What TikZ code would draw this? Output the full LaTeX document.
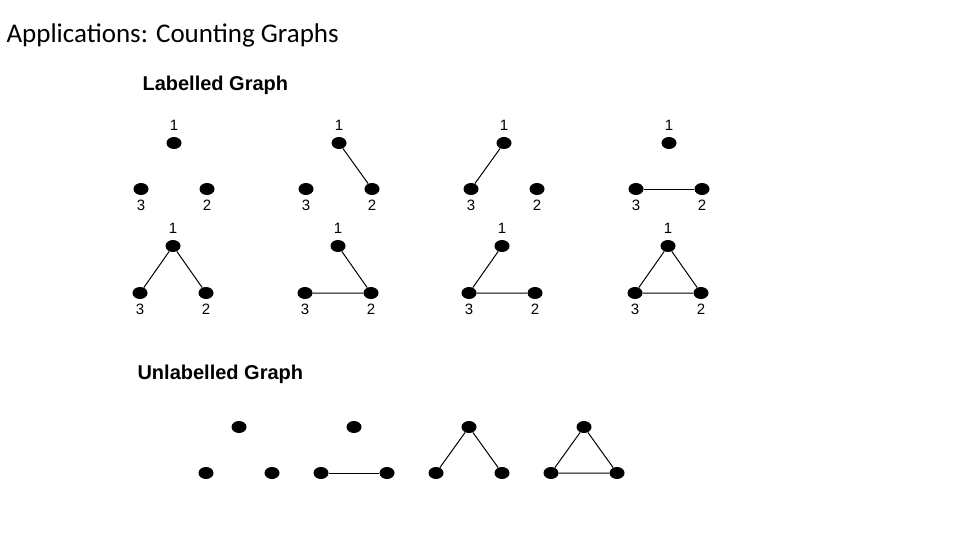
\documentclass[tikz,border=0pt]{standalone}
\usepackage{fontspec}
\usetikzlibrary{shapes.geometric}
\setmainfont{Carlito}
\newfontfamily\arialf{Liberation Sans}
\newcommand{\labgraph}[4]{% name, x1, y1, dy
  \node[v] (#1a) at (#2,#3) {};
  \node[v] (#1c) at (#2-33,#3+#4) {};
  \node[v] (#1b) at (#2+33,#3+#4) {};
  \node[lab] (#1la) at (#2,#3-18) {1};
  \node[lab] (#1lc) at (#2-33,#3+#4+16) {3};
  \node[lab] (#1lb) at (#2+33,#3+#4+16) {2};}
\newcommand{\unlgraph}[3]{%
  \node[v] (#1a) at (#2,#3) {};
  \node[v] (#1c) at (#2-33,#3+46) {};
  \node[v] (#1b) at (#2+33,#3+46) {};}
\begin{document}
\begin{tikzpicture}[x=1pt,y=-1pt,
  v/.style={ellipse,fill=black,minimum width=15pt,minimum height=12pt,inner sep=0pt},
  lab/.style={font=\arialf\fontsize{15}{15}\selectfont},
  hd/.style={font=\arialf\bfseries\fontsize{20}{20}\selectfont,anchor=west},
  e/.style={line width=1pt}]
\useasboundingbox (0,0) rectangle (960,540);
\node[anchor=west,font=\fontsize{27}{27}\selectfont] (title) at (3,35) {Applications: Counting Graphs};
\node[hd] (h1) at (139,85) {Labelled Graph};
\node[hd] (h2) at (134,374) {Unlabelled Graph};
\labgraph{g1}{174}{143}{46}
\labgraph{g2}{339}{143}{46}
\labgraph{g3}{504}{143}{46}
\labgraph{g4}{669}{143}{46}
\labgraph{g5}{173}{246}{47}
\labgraph{g6}{338}{246}{47}
\labgraph{g7}{502}{246}{47}
\labgraph{g8}{668}{246}{47}
\draw[e] (g2a)--(g2b);
\draw[e] (g3a)--(g3c);
\draw[e] (g4c)--(g4b);
\draw[e] (g5a)--(g5c) (g5a)--(g5b);
\draw[e] (g6a)--(g6b) (g6c)--(g6b);
\draw[e] (g7a)--(g7c) (g7c)--(g7b);
\draw[e] (g8a)--(g8c) (g8a)--(g8b) (g8c)--(g8b);
\unlgraph{u1}{239}{427}
\unlgraph{u2}{354}{427}
\unlgraph{u3}{469}{427}
\unlgraph{u4}{584}{427}
\draw[e] (u2c)--(u2b);
\draw[e] (u3a)--(u3c) (u3a)--(u3b);
\draw[e] (u4a)--(u4c) (u4a)--(u4b) (u4c)--(u4b);
\end{tikzpicture}
\end{document}
